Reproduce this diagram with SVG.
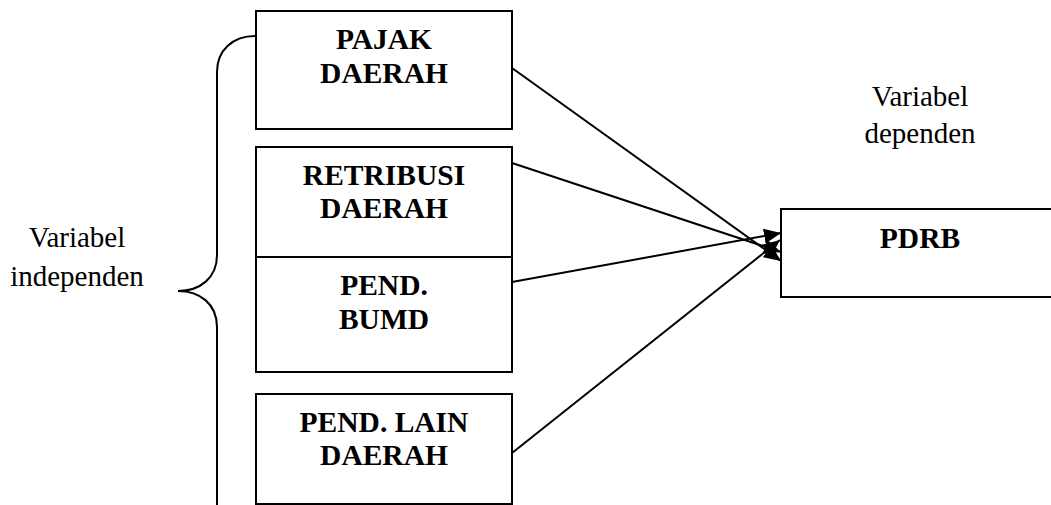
<svg xmlns="http://www.w3.org/2000/svg" width="1051" height="505" viewBox="0 0 1051 505">
<style>
.box{fill:#fff;stroke:#000;stroke-width:2}
.bt{font-family:"Liberation Serif","Times New Roman",serif;font-weight:bold;font-size:29.5px;text-anchor:middle;fill:#000}
.nt{font-family:"Liberation Serif","Times New Roman",serif;font-size:29px;text-anchor:middle;fill:#000}
.con{stroke:#000;stroke-width:2;fill:none;marker-end:url(#ah)}
</style>
<defs>
<marker id="ah" markerUnits="userSpaceOnUse" markerWidth="18" markerHeight="16" refX="17" refY="7.5" orient="auto">
<path d="M0,0 L17,7.5 L0,15 z" fill="#000"/>
</marker>
</defs>
<rect width="1051" height="505" fill="#fff"/>
<g id="brace">
<path d="M255,36 C233,36 217,50 217,72 L217,255 C217,278 200,291 178,291 C200,291 217,304 217,327 L217,510" fill="none" stroke="#000" stroke-width="2"/>
</g>
<g id="label-independen">
<text class="nt" x="77" y="246.5">Variabel</text>
<text class="nt" x="77" y="285.5">independen</text>
</g>
<g id="label-dependen">
<text class="nt" x="920" y="106">Variabel</text>
<text class="nt" x="920" y="142.5">dependen</text>
</g>
<g id="pajak">
<rect class="box" x="256" y="11" width="256" height="118"/>
<text class="bt" x="384" y="49">PAJAK</text>
<text class="bt" x="384" y="83">DAERAH</text>
</g>
<g id="retribusi">
<rect class="box" x="256" y="147" width="256" height="110"/>
<text class="bt" x="384" y="185">RETRIBUSI</text>
<text class="bt" x="384" y="218">DAERAH</text>
</g>
<g id="bumd">
<rect class="box" x="256" y="257" width="256" height="115"/>
<text class="bt" x="384" y="295">PEND.</text>
<text class="bt" x="384" y="329">BUMD</text>
</g>
<g id="lain">
<rect class="box" x="256" y="394" width="256" height="110"/>
<text class="bt" x="384" y="432">PEND. LAIN</text>
<text class="bt" x="384" y="465">DAERAH</text>
</g>
<g id="pdrb">
<rect class="box" x="781" y="209" width="290" height="88"/>
<text class="bt" x="920" y="248">PDRB</text>
</g>
<g id="connectors">
<line class="con" x1="512" y1="68" x2="781" y2="261"/>
<line class="con" x1="512" y1="163" x2="781" y2="252"/>
<line class="con" x1="512" y1="282" x2="781" y2="233"/>
<line class="con" x1="512" y1="453" x2="780" y2="240"/>
</g>
</svg>
